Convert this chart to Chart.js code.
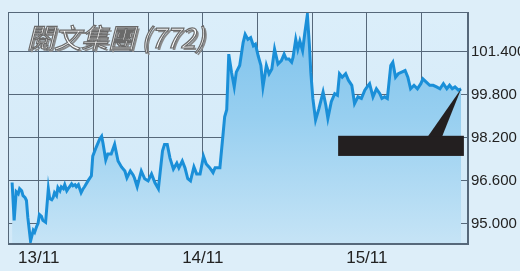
<!DOCTYPE html>
<html>
<head>
<meta charset="utf-8">
<script src="https://cdn.jsdelivr.net/npm/chart.js@4/dist/chart.umd.min.js"></script>
<style>
  html, body { margin: 0; padding: 0; background: #ddeef9; }
  #wrap { position: relative; width: 520px; height: 271px; overflow: hidden; }
  #c { display: block; }
  #title {
    position: absolute; left: 27px; top: 21px;
    font-family: "Noto Sans CJK TC", "Noto Sans CJK SC", sans-serif;
    font-size: 27px; line-height: 32px; font-style: italic; font-weight: 400;
    color: #ffffff; white-space: nowrap;
    -webkit-text-stroke: 1.2px #6a6a6a;
    text-shadow: 2px 2px 0 #8a8a8a;
  }
</style>
</head>
<body>
<div id="wrap">
  <canvas id="c" width="520" height="271"></canvas>
  <div id="title">閱文集團 (772)</div>
</div>
<script>
// Category labels (one per trading day) and gridline positions (hours from 13/11)
const dates = ['13/11', '14/11', '15/11'];
const gridHours = [0, 8, 16, 24, 32, 40, 48, 56];
const yTicks = [95.0, 96.6, 98.2, 99.8, 101.4];

// Series: time (hours from 13/11) and price
const hours = [-3.9,-3.6,-3.3,-3.0,-2.8,-2.5,-2.3,-2.0,-1.8,-1.6,-1.2,-0.8,-0.6,-0.3,-0.1,0.1,0.4,0.6,1.0,1.4,
  1.6,1.9,2.1,2.3,2.6,2.8,3.1,3.3,3.6,3.8,4.1,4.3,4.5,4.8,5.0,5.3,5.5,5.8,6.0,6.2,
  6.5,6.7,7.2,7.7,7.9,8.4,8.9,9.2,9.4,9.8,10.1,10.6,11.1,11.6,12.1,12.6,12.9,13.4,13.8,14.0,
  14.4,15.0,15.5,16.0,16.5,17.0,17.5,18.1,18.4,18.8,19.2,19.7,20.2,20.5,21.0,21.4,21.8,22.2,22.7,23.1,
  23.6,24.1,24.5,25.0,25.5,25.8,26.5,27.0,27.2,27.5,27.8,28.2,28.6,28.9,29.4,29.9,30.2,30.6,31.0,31.4,
  31.7,32.1,32.5,32.8,33.3,33.7,34.1,34.5,35.0,35.5,35.9,36.2,36.6,37.0,37.2,37.6,37.9,38.2,38.6,38.9,
  39.3,39.6,39.8,40.1,40.5,41.0,41.6,42.0,42.3,42.8,43.3,43.7,44.0,44.4,44.9,45.3,45.8,46.2,46.7,47.2,
  47.7,48.2,48.4,48.9,49.4,49.9,50.2,50.6,51.0,51.5,51.8,52.2,52.6,53.1,53.6,54.0,54.4,54.9,55.4,55.9,
  56.2,56.7,57.2,57.7,58.2,58.7,59.2,59.7,60.1,60.5,60.9,61.4,61.8];
const prices = [96.53,95.12,96.19,96.11,96.30,96.22,96.04,95.97,95.86,95.23,94.35,94.75,94.68,94.90,95.01,95.34,95.27,95.12,95.05,96.30,
  95.93,95.89,95.97,96.15,96.04,96.34,96.22,96.37,96.30,96.45,96.22,96.30,96.37,96.48,96.41,96.45,96.37,96.45,96.30,96.15,
  96.30,96.37,96.59,96.78,97.51,97.84,98.14,98.25,97.99,97.37,97.59,97.59,97.95,97.33,97.11,96.96,96.70,96.96,96.81,96.70,
  96.37,96.96,96.67,96.59,96.85,96.52,96.30,97.70,97.95,97.95,97.44,97.03,97.25,97.07,97.33,97.07,96.67,96.59,97.11,96.85,
  96.85,97.51,97.22,97.08,96.90,97.08,97.08,98.43,98.98,99.24,101.31,100.64,100.09,100.64,100.89,101.74,102.05,101.86,101.93,101.62,
  101.68,101.25,100.89,100.09,100.89,100.58,100.76,101.50,100.94,101.07,101.31,101.13,101.13,101.01,101.19,101.86,101.50,101.80,101.44,102.05,
  102.78,101.62,100.64,99.66,98.86,99.29,99.90,99.41,98.92,99.54,99.84,99.78,100.58,100.45,100.58,100.34,100.15,99.47,99.72,99.66,
  99.97,100.15,100.21,99.72,100.02,99.84,99.66,99.72,99.66,100.89,101.01,100.45,100.58,100.64,100.70,100.45,100.02,100.15,100.02,100.21,
  100.39,100.27,100.15,100.15,100.09,100.02,100.21,100.02,100.15,100.02,100.09,99.97,100.02];

const points = hours.map((h, i) => ({ x: h, y: prices[i] }));

const GRID = '#56687a';

const bgPlugin = {
  id: 'bg',
  beforeDraw(chart) {
    const { ctx, chartArea: a, width, height } = chart;
    ctx.save();
    ctx.fillStyle = '#ddeef9';
    ctx.fillRect(0, 0, width, height);
    const g = ctx.createLinearGradient(0, a.top, 0, a.bottom);
    g.addColorStop(0, '#dbeefa');
    g.addColorStop(1, '#d2e9f8');
    ctx.fillStyle = g;
    ctx.fillRect(a.left, a.top, a.right - a.left, a.bottom - a.top);
    ctx.restore();
  },
  afterDraw(chart) {
    const { ctx, chartArea: a } = chart;
    ctx.save();
    ctx.strokeStyle = GRID;
    ctx.lineWidth = 1;
    ctx.strokeRect(Math.round(a.left) + 0.5, Math.round(a.top) + 0.5,
      Math.round(a.right - a.left) - 1, Math.round(a.bottom - a.top) - 1);
    ctx.restore();
  }
};

// Black callout box that hides the last price, with a pointer to the last point
const calloutPlugin = {
  id: 'callout',
  afterDatasetsDraw(chart) {
    const { ctx, scales: { x, y } } = chart;
    const last = points[points.length - 1];
    const px = x.getPixelForValue(last.x), py = y.getPixelForValue(last.y);
    const l = x.getPixelForValue(43.8), r = x.getPixelForValue(62.2);
    const t = y.getPixelForValue(98.27), b = y.getPixelForValue(97.52);
    ctx.save();
    ctx.fillStyle = '#231f20';
    ctx.fillRect(l, t, r - l, b - t);
    ctx.beginPath();
    ctx.moveTo(x.getPixelForValue(56.9), t + 1);
    ctx.lineTo(px, py);
    ctx.lineTo(x.getPixelForValue(59.0), t + 1);
    ctx.closePath();
    ctx.fill();
    ctx.restore();
  }
};

new Chart(document.getElementById('c'), {
  type: 'line',
  data: {
    datasets: [{
      data: points,
      borderColor: '#1a8fd8',
      borderWidth: 3,
      pointRadius: 0,
      tension: 0,
      fill: 'start',
      backgroundColor: (ctx) => {
        const a = ctx.chart.chartArea;
        if (!a) return 'rgba(120,190,235,0.8)';
        const g = ctx.chart.ctx.createLinearGradient(0, a.top, 0, a.bottom);
        g.addColorStop(0, '#7cc1ec');
        g.addColorStop(0.45, '#97cff0');
        g.addColorStop(1, '#c6e4f6');
        return g;
      }
    }]
  },
  options: {
    responsive: false,
    animation: false,
    layout: { padding: { left: 8, top: 9, right: 0, bottom: 0 } },
    plugins: { legend: { display: false }, tooltip: { enabled: false }, title: { display: false } },
    scales: {
      x: {
        type: 'linear',
        min: -4.5, max: 62.8,
        afterBuildTicks: (s) => { s.ticks = gridHours.map(v => ({ value: v })); },
        afterFit: (s) => { s.height = 27; },
        grid: { color: GRID, lineWidth: 1, drawTicks: false },
        border: { display: true, color: GRID, width: 1 },
        ticks: {
          autoSkip: false, maxRotation: 0, padding: 4,
          color: '#222222',
          font: { family: '"Liberation Sans", Arial, sans-serif', size: 17 },
          callback: (v) => (v % 24 === 0 ? dates[v / 24] : '')
        }
      },
      y: {
        position: 'right',
        min: 94.24, max: 102.88,
        afterBuildTicks: (s) => { s.ticks = yTicks.map(v => ({ value: v })); },
        afterFit: (s) => { s.width = 52; },
        grid: { color: GRID, lineWidth: 1, drawTicks: false },
        border: { display: true, color: GRID, width: 1 },
        ticks: {
          padding: 3,
          color: '#222222',
          font: { family: '"Liberation Sans Narrow", "Liberation Sans", Arial, sans-serif', size: 15 },
          callback: (v) => Number(v).toFixed(3)
        }
      }
    }
  },
  plugins: [bgPlugin, calloutPlugin]
});
</script>
</body>
</html>
